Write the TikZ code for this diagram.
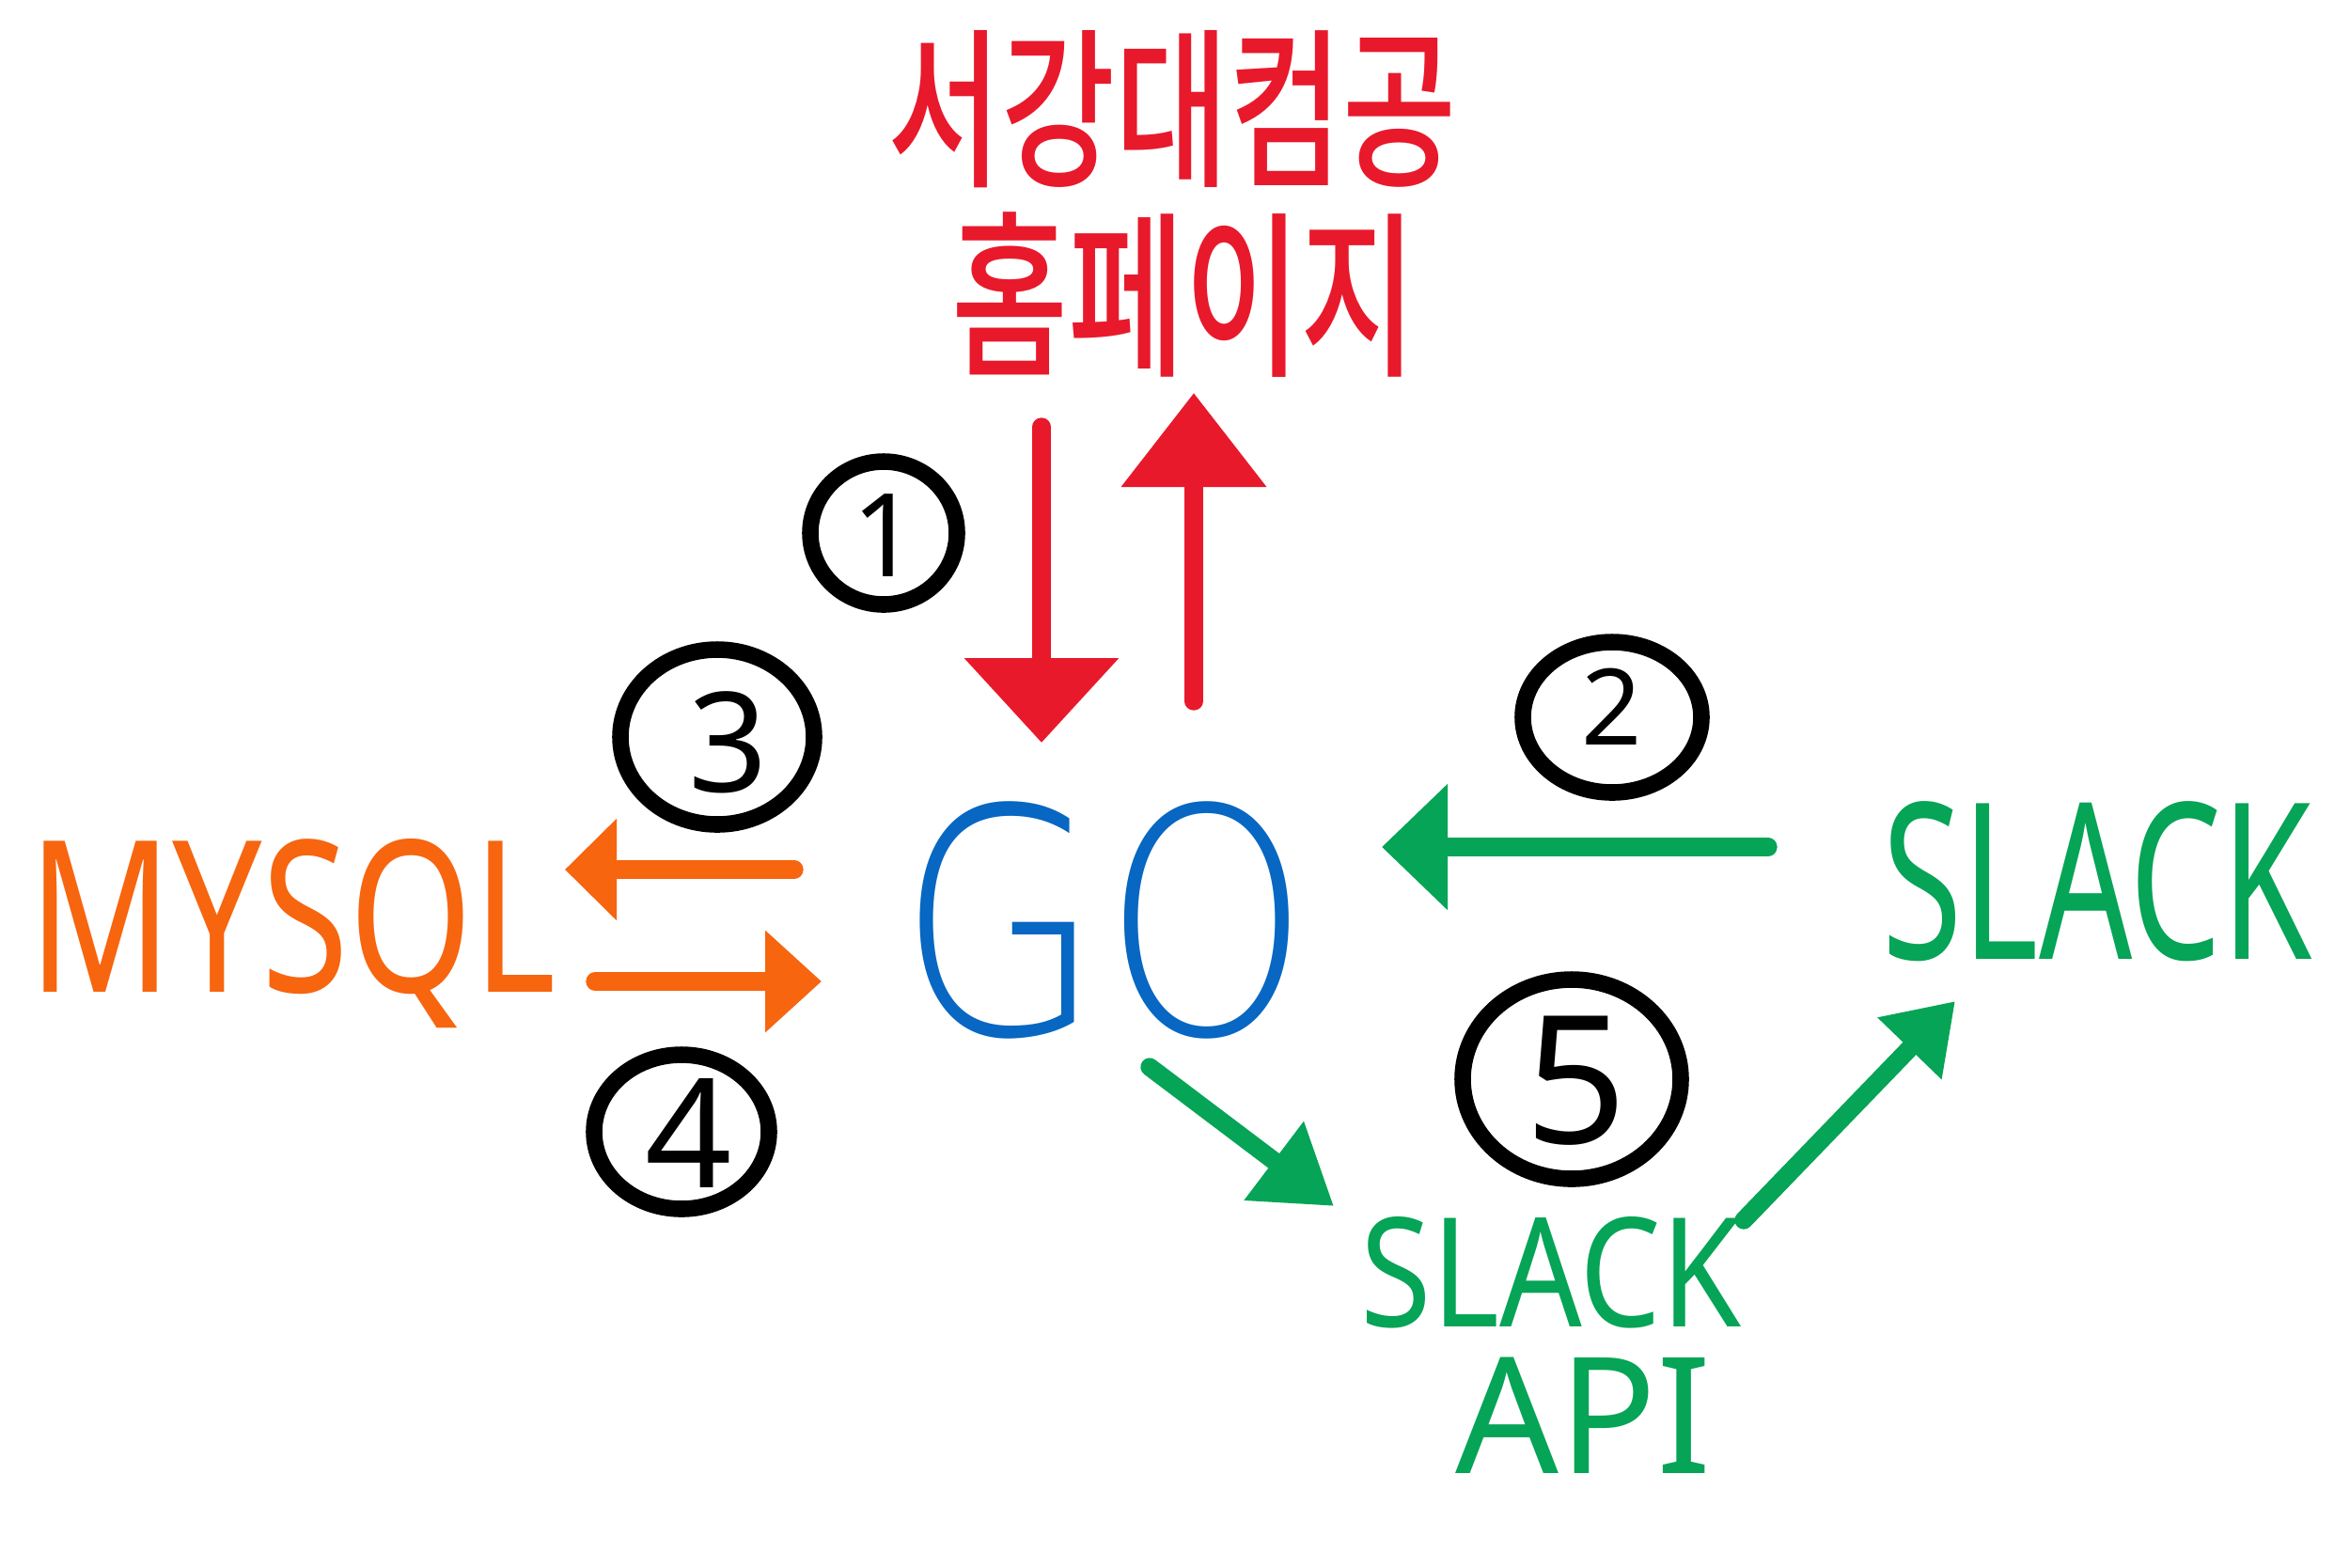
\documentclass[tikz,border=0pt]{standalone}
\usepackage{fontspec}
\setmainfont{Noto Sans}
\newfontfamily\kr{Noto Sans CJK KR Medium}
\newfontfamily\golight{DejaVu Sans ExtraLight}
\usetikzlibrary{arrows.meta}
\definecolor{hred}{HTML}{E8192B}
\definecolor{horange}{HTML}{F7650F}
\definecolor{hgreen}{HTML}{05A456}
\definecolor{hblue}{HTML}{0767C2}
\tikzset{
  lbl/.style={inner sep=0pt, outer sep=0pt},
  arr/.style={line width=5.5pt, line cap=round},
  numring/.style={line width=5pt, black},
  numtext/.style={inner sep=0pt},
}
\begin{document}
\begin{tikzpicture}[x=1cm,y=-1cm]
\useasboundingbox (0,0) rectangle (25,16.67);
\fill[white] (0,0) rectangle (25,16.67);

% title
\node[lbl, hred] (title1) at (12.47,1.16) {\scalebox{0.72}[1]{\kr\fontsize{52}{52}\selectfont 서강대컴공}};
\node[lbl, hred] (title2) at (12.60,3.14) {\scalebox{0.71}[1]{\kr\fontsize{54}{54}\selectfont 홈페이지}};

% GO
\node[lbl, hblue, anchor=base] (go) at (11.75,11.0) {\scalebox{0.84}[1]{\golight\fontsize{95}{95}\selectfont GO}};

% MYSQL
\node[lbl, horange, anchor=base] (mysql) at (3.11,10.55) {\scalebox{0.75}[1]{\fontsize{64}{64}\selectfont MYSQL}};

% SLACK (right)
\node[lbl, hgreen, anchor=base] (slack) at (22.31,10.20) {\scalebox{0.67}[1]{\fontsize{66}{66}\selectfont SLACK}};

% SLACK API
\node[lbl, hgreen, anchor=base] (api1) at (16.50,14.11) {\scalebox{0.85}[1]{\fontsize{46}{46}\selectfont SLACK}};
\node[lbl, hgreen, anchor=base] (api2) at (16.85,15.67) {\fontsize{49}{49}\selectfont API};

% arrow end points
\coordinate (r1s) at (11.08,4.54);  \coordinate (r1e) at (11.08,7.90);
\coordinate (r2s) at (12.70,7.46);  \coordinate (r2e) at (12.70,4.18);
\coordinate (o1s) at (8.45,9.25);   \coordinate (o1e) at (6.01,9.25);
\coordinate (o2s) at (6.33,10.44);  \coordinate (o2e) at (8.74,10.44);
\coordinate (g1s) at (18.81,9.01);  \coordinate (g1e) at (14.70,9.01);
\coordinate (g2s) at (12.23,11.35); \coordinate (g2e) at (14.19,12.83);
\coordinate (g3s) at (18.55,12.98); \coordinate (g3e) at (20.80,10.65);

\draw[arr, hred, -{Triangle[length=0.9cm,width=1.6cm]}] (r1s) -- (r1e);
\draw[arr, hred, -{Triangle[length=1.0cm,width=1.5cm]}] (r2s) -- (r2e);
\draw[arr, horange, -{Triangle[length=0.55cm,width=1.05cm]}] (o1s) -- (o1e);
\draw[arr, horange, -{Triangle[length=0.6cm,width=1.05cm]}] (o2s) -- (o2e);
\draw[arr, hgreen, -{Triangle[length=0.7cm,width=1.3cm]}] (g1s) -- (g1e);
\draw[arr, hgreen, -{Triangle[length=0.8cm,width=1.0cm]}] (g2s) -- (g2e);
\draw[arr, hgreen, -{Triangle[length=0.7cm,width=0.9cm]}] (g3s) -- (g3e);

% numbered circles
\draw[numring] (9.40,5.67) ellipse [x radius=0.78, y radius=0.76];
\node[numtext, font=\bfseries\fontsize{35}{35}\selectfont] (n1) at (9.42,5.70) {1};
\draw[numring] (17.15,7.63) ellipse [x radius=0.95, y radius=0.80];
\node[numtext, font=\bfseries\fontsize{32}{32}\selectfont] (n2) at (17.15,7.52) {2};
\draw[numring] (7.63,7.84) ellipse [x radius=1.03, y radius=0.93];
\node[numtext, font=\bfseries\fontsize{42}{42}\selectfont] (n3) at (7.75,7.90) {3};
\draw[numring] (7.25,12.04) ellipse [x radius=0.93, y radius=0.82];
\node[numtext, font=\bfseries\fontsize{46}{46}\selectfont] (n4) at (7.33,12.05) {4};
\draw[numring] (16.72,11.48) ellipse [x radius=1.16, y radius=1.06];
\node[numtext, font=\bfseries\fontsize{54}{54}\selectfont] (n5) at (16.77,11.50) {5};
\end{tikzpicture}
\end{document}
